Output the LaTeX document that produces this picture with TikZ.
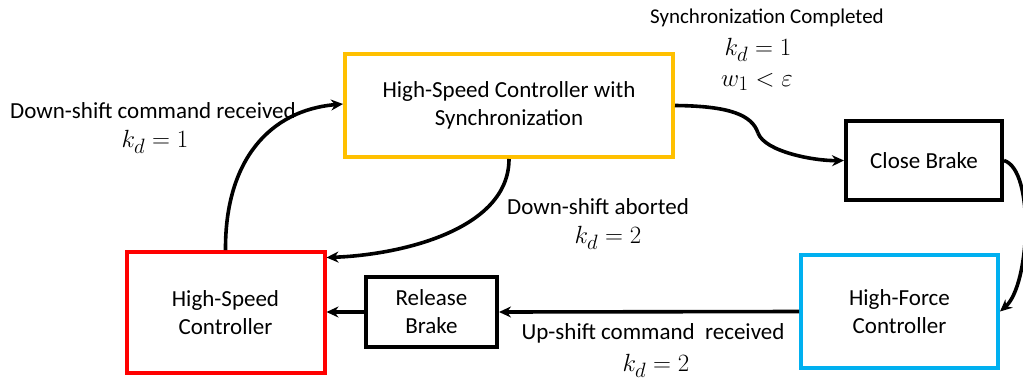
\documentclass[tikz,border=0pt]{standalone}
\usepackage{fontspec}
\setmainfont{Carlito}
\usetikzlibrary{arrows.meta}
\definecolor{cyel}{RGB}{255,192,0}
\definecolor{cred}{RGB}{255,0,0}
\definecolor{cblu}{RGB}{0,176,240}
\tikzset{
  box/.style={draw, line width=4pt, rectangle, align=center, inner sep=0pt,
    font=\fontsize{23}{28}\selectfont},
  conn/.style={line width=3.6pt, -{Stealth[length=12pt,width=11pt]}},
  lab/.style={align=center, inner sep=0pt, font=\fontsize{23}{27}\selectfont},
  mlab/.style={inner sep=0pt, font=\fontsize{29}{33}\selectfont},
}
\begin{document}
\begin{tikzpicture}[x=1pt,y=-1pt]
\useasboundingbox (0,0) rectangle (1023,381);
\node[box, draw=cyel, minimum width=328pt, minimum height=103pt] (sync) at (509,105.5) {High-Speed Controller with\\Synchronization};
\node[box, draw=cred, minimum width=198pt, minimum height=121pt] (hs) at (225.5,312.5) {High-Speed\\Controller};
\node[box, minimum width=156pt, minimum height=79pt] (close) at (924,160.5) {Close Brake};
\node[box, draw=cblu, minimum width=197pt, minimum height=113pt] (hf) at (899.5,311.5) {High-Force\\Controller};
\node[box, minimum width=131pt, minimum height=70pt] (rel) at (431.5,312) {Release\\Brake};

\coordinate (kink) at (758,133);
\draw[conn] (hs.north) .. controls (225,160) and (270,110) .. ([yshift=1.5pt]sync.west);
\draw[conn] (sync.south) .. controls (509,230) and (400,255) .. ([yshift=55pt]hs.east);
\draw[line width=3.6pt] (sync.east) .. controls (730,106) and (752,115) .. (kink);
\draw[conn] (kink) .. controls (765,152) and (815,161) .. (close.west);
\draw[conn] (close.east) .. controls (1035,170) and (1030,285) .. (hf.east);
\draw[conn] (hf.west) -- (rel.east);
\draw[conn] (rel.west) -- (rel.west -| hs.east);

\node[lab, font=\fontsize{21}{25}\selectfont] (l1) at (767,18) {Synchronization Completed};
\node[mlab] (l1a) at (758,50) {$k_d=1$};
\node[mlab] (l1b) at (757,82) {$w_1<\varepsilon$};
\node[lab] (l2) at (153,111) {Down-shift command received};
\node[mlab] (l2a) at (155,142) {$k_d=1$};
\node[lab] (l3) at (598,207) {Down-shift aborted};
\node[mlab] (l3a) at (608,238) {$k_d=2$};
\node[lab] (l4) at (653,333) {Up-shift command\ \ received};
\node[mlab] (l4a) at (656,366) {$k_d=2$};
\end{tikzpicture}
\end{document}
